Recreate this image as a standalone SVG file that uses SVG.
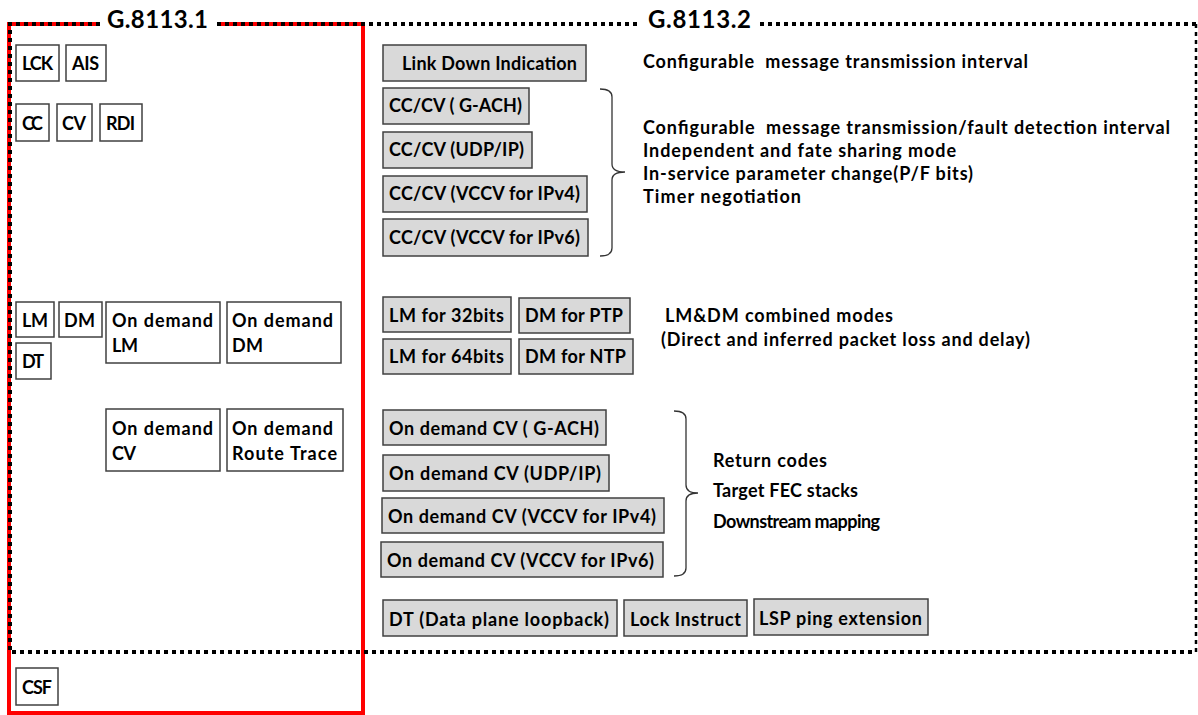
<svg xmlns="http://www.w3.org/2000/svg" width="1198" height="715" viewBox="0 0 1198 715">
<style>
text{font-family:Lato,"Open Sans","Liberation Sans",sans-serif;font-weight:bold;font-size:18px;fill:#000}
.title{font-size:24px}
.wb{fill:#fff;stroke:#404040;stroke-width:1.5}
.gb{fill:#d9d9d9;stroke:#404040;stroke-width:1.5}
.red{fill:none;stroke:#ff0000;stroke-width:4}
.dot{fill:none;stroke:#000;stroke-width:4;stroke-dasharray:4 4}
.dotv{fill:none;stroke:#000;stroke-width:2.5;stroke-dasharray:4 4}
.br{fill:none;stroke:#333;stroke-width:1.3}
</style>
<g id="frames">
<path class="red" d="M100,24 H9 V713 H363 V24 H217"/>
<path class="dot" d="M100,24 H10 V652"/>
<path class="dot" d="M217,24 H640"/>
<path class="dot" d="M760,24 H1196"/>
<path class="dotv" d="M1196,24 V652"/>
<path class="dot" d="M12,652 H1196"/>
<text class="title" x="107" y="28" textLength="101">G.8113.1</text>
<text class="title" x="648" y="28" textLength="103">G.8113.2</text>
</g>
<g id="connectors">
<path class="br" d="M600,89 Q612,89 612,97 L612,164 Q612,172 625,172 Q612,172 612,180 L612,248 Q612,256 600,256"/>
<path class="br" d="M674,411 Q686,411 686,419 L686,485 Q686,493 698,493 Q686,493 686,501 L686,568 Q686,576 674,576"/>
</g>
<g id="n-lck"><rect class="wb" x="16" y="45" width="43" height="36"/><text x="22" y="70" textLength="31">LCK</text></g>
<g id="n-ais"><rect class="wb" x="66" y="45" width="40" height="36"/><text x="72" y="70" textLength="27">AIS</text></g>
<g id="n-cc"><rect class="wb" x="16" y="104" width="33" height="37"/><text x="22" y="130" textLength="21">CC</text></g>
<g id="n-cv"><rect class="wb" x="57" y="104" width="35" height="37"/><text x="62" y="130" textLength="24">CV</text></g>
<g id="n-rdi"><rect class="wb" x="100" y="104" width="42" height="37"/><text x="106" y="130" textLength="29">RDI</text></g>
<g id="n-lm"><rect class="wb" x="16" y="302" width="38" height="35"/><text x="22" y="327" textLength="26">LM</text></g>
<g id="n-dm"><rect class="wb" x="59" y="302" width="43" height="35"/><text x="64" y="327" textLength="31">DM</text></g>
<g id="n-dt"><rect class="wb" x="16" y="343" width="35" height="36"/><text x="22" y="368" textLength="22">DT</text></g>
<g id="n-odlm"><rect class="wb" x="106" y="302" width="114" height="61"/><text x="112" y="327" textLength="101">On demand</text><text x="112" y="352" textLength="26">LM</text></g>
<g id="n-oddm"><rect class="wb" x="227" y="302" width="114" height="61"/><text x="232" y="327" textLength="101">On demand</text><text x="232" y="352" textLength="31">DM</text></g>
<g id="n-odcv"><rect class="wb" x="106" y="409" width="114" height="62"/><text x="112" y="435" textLength="101">On demand</text><text x="112" y="460" textLength="24">CV</text></g>
<g id="n-odrt"><rect class="wb" x="227" y="409" width="116" height="62"/><text x="232" y="435" textLength="101">On demand</text><text x="232" y="460" textLength="105">Route Trace</text></g>
<g id="n-csf"><rect class="wb" x="16" y="668" width="42" height="37"/><text x="22" y="694" textLength="30">CSF</text></g>
<g id="n-ldi"><rect class="gb" x="383" y="45" width="203" height="36"/><text x="402" y="70" textLength="175">Link Down Indication</text></g>
<g id="n-cc1"><rect class="gb" x="383" y="88" width="146" height="36"/><text x="389" y="112" textLength="133">CC/CV ( G-ACH)</text></g>
<g id="n-cc2"><rect class="gb" x="383" y="132" width="149" height="36"/><text x="389" y="156" textLength="135">CC/CV (UDP/IP)</text></g>
<g id="n-cc3"><rect class="gb" x="383" y="176" width="204" height="36"/><text x="389" y="200" textLength="191">CC/CV (VCCV for IPv4)</text></g>
<g id="n-cc4"><rect class="gb" x="383" y="219" width="205" height="37"/><text x="389" y="244" textLength="191">CC/CV (VCCV for IPv6)</text></g>
<g id="n-lm32"><rect class="gb" x="383" y="297" width="128" height="35"/><text x="389" y="322" textLength="115">LM for 32bits</text></g>
<g id="n-dmptp"><rect class="gb" x="519" y="298" width="111" height="35"/><text x="525" y="322" textLength="98">DM for PTP</text></g>
<g id="n-lm64"><rect class="gb" x="383" y="339" width="128" height="35"/><text x="389" y="363" textLength="115">LM for 64bits</text></g>
<g id="n-dmntp"><rect class="gb" x="519" y="339" width="114" height="35"/><text x="525" y="363" textLength="101">DM for NTP</text></g>
<g id="n-odcv1"><rect class="gb" x="383" y="410" width="223" height="35"/><text x="389" y="435" textLength="210">On demand CV ( G-ACH)</text></g>
<g id="n-odcv2"><rect class="gb" x="383" y="455" width="226" height="36"/><text x="389" y="480" textLength="212">On demand CV (UDP/IP)</text></g>
<g id="n-odcv3"><rect class="gb" x="382" y="498" width="282" height="35"/><text x="388" y="523" textLength="268">On demand CV (VCCV for IPv4)</text></g>
<g id="n-odcv4"><rect class="gb" x="381" y="542" width="282" height="35"/><text x="387" y="567" textLength="267">On demand CV (VCCV for IPv6)</text></g>
<g id="n-dt2"><rect class="gb" x="383" y="600" width="234" height="36"/><text x="389" y="626" textLength="220">DT (Data plane loopback)</text></g>
<g id="n-lock"><rect class="gb" x="624" y="600" width="123" height="36"/><text x="630" y="626" textLength="111">Lock Instruct</text></g>
<g id="n-lsp"><rect class="gb" x="754" y="599" width="174" height="36"/><text x="759" y="625" textLength="163">LSP ping extension</text></g>
<g id="notes">
<text x="643" y="68" textLength="385" xml:space="preserve">Configurable  message transmission interval</text>
<text x="643" y="134" textLength="527" xml:space="preserve">Configurable  message transmission/fault detection interval</text>
<text x="643" y="157" textLength="313">Independent and fate sharing mode</text>
<text x="643" y="180" textLength="330">In-service parameter change(P/F bits)</text>
<text x="643" y="203" textLength="158">Timer negotiation</text>
<text x="665" y="322" textLength="228">LM&amp;DM combined modes</text>
<text x="661" y="346" textLength="369">(Direct and inferred packet loss and delay)</text>
<text x="713" y="467" textLength="114">Return codes</text>
<text x="713" y="497" textLength="145">Target FEC stacks</text>
<text x="713" y="528" textLength="167">Downstream mapping</text>
</g>
</svg>
